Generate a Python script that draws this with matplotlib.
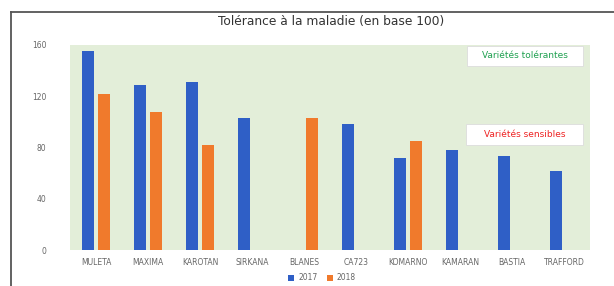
import matplotlib
matplotlib.use("Agg")
import matplotlib.pyplot as plt
from matplotlib.lines import Line2D
from matplotlib.patches import Patch, Rectangle
import numpy as np

categories = ["MULETA", "MAXIMA", "KAROTAN", "SIRKANA", "BLANES", "CA723",
              "KOMARNO", "KAMARAN", "BASTIA", "TRAFFORD"]
values_2017 = [155, 129, 131, 103, 0, 98, 72, 78, 73, 62]
values_2018 = [122, 108, 82, 0, 103, 0, 85, 0, 0, 0]
series_labels = ["2017", "2018"]
yticks = [0, 40, 80, 120, 160]

blue = "#2f5fc6"
orange = "#f07a2c"

W, H = 614, 286
fig = plt.figure(figsize=(6.14, 2.86), dpi=100)
fig.patch.set_facecolor("white")
ax = fig.add_axes([70/W, 1-250/H, 520/W, 205/H])
ax.set_facecolor("#e3eed9")

x = np.arange(len(categories))
w = 0.23
off = 0.145
ax.bar(x - off, values_2017, width=w, color=blue, label=series_labels[0])
ax.bar(x + off, values_2018, width=w, color=orange, label=series_labels[1])

ax.set_xlim(-0.5, len(categories) - 0.5)
ax.set_ylim(0, 160)
ax.set_yticks(yticks)
ax.set_yticklabels([str(t) for t in yticks], fontsize=5.5, color="#666666")
ax.set_xticks(x)
ax.set_xticklabels(categories, fontsize=5.5, color="#666666")
ax.tick_params(axis="both", length=0)
ax.tick_params(axis="y", pad=17)
ax.tick_params(axis="x", pad=6)
for s in ax.spines.values():
    s.set_visible(False)

fig.text(331/W, 1-22/H, "Tolérance à la maladie (en base 100)", ha="center", va="center",
         fontsize=8.8, color="#333333")

def note(x0, y0, x1, y1, text, color):
    fig.add_artist(Rectangle((x0/W, 1-y1/H), (x1-x0)/W, (y1-y0)/H, transform=fig.transFigure,
                             facecolor="white", edgecolor="#dcdcdc", linewidth=0.6))
    fig.text((x0+x1)/2/W, 1-(y0+y1)/2/H, text, ha="center", va="center", fontsize=6.5, color=color)

note(467, 46, 583, 66, "Variétés tolérantes", "#1fa050")
note(466, 124, 583, 145, "Variétés sensibles", "#ee2222")

handles = [Patch(facecolor=blue, label=series_labels[0]), Patch(facecolor=orange, label=series_labels[1])]
fig.legend(handles=handles, loc="center", bbox_to_anchor=(322/W, 1-278/H), ncol=2, frameon=False,
           fontsize=5.5, handlelength=0.8, handleheight=0.8, columnspacing=1.2, handletextpad=0.5,
           labelcolor="#666666")

# outer frame
fig.add_artist(Line2D([11/W, 11/W], [0, 1-12/H], transform=fig.transFigure, color="#555555", linewidth=1.3))
fig.add_artist(Line2D([11/W, 1], [1-12/H, 1-12/H], transform=fig.transFigure, color="#555555", linewidth=1.3))

fig.savefig("out.png", dpi=100)
